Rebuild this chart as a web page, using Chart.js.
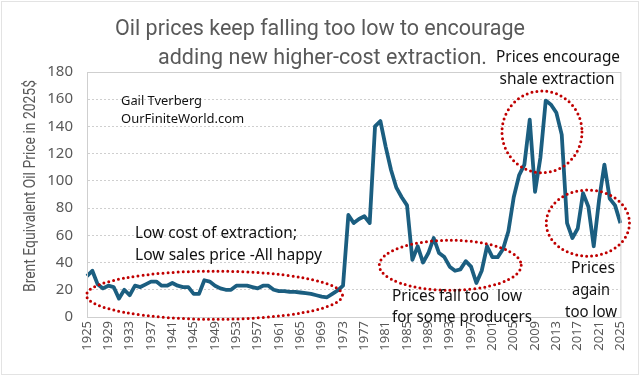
<!DOCTYPE html>
<html>
<head>
<meta charset="utf-8">
<script src="https://cdn.jsdelivr.net/npm/chart.js@4"></script>
<style>
  html, body { margin: 0; padding: 0; background: #fff; }
  #wrap { width: 640px; height: 376px; position: relative; }
</style>
</head>
<body>
<div id="wrap"><canvas id="oil"></canvas></div>
<script>
// --- Data ---
const years = [];
for (let y = 1925; y <= 2025; y++) years.push(String(y));

const prices = [
  30, 34, 24, 21, 23, 22, 13.5, 20, 16, 23,        // 1925-1934
  22, 24, 26, 26, 23, 23, 25, 23, 22, 22,          // 1935-1944
  17, 17, 27, 26, 23, 21, 20, 20, 23, 23,          // 1945-1954
  23, 22, 21, 23, 23, 20, 19, 19, 18.5, 18.5,      // 1955-1964
  18, 17.5, 17, 16, 15, 14.5, 17, 19.5, 23, 75,    // 1965-1974
  69, 72, 74, 69, 140, 144, 125, 108, 95, 88,      // 1975-1984
  82, 42, 52, 40, 47, 58, 47, 44, 37, 34,          // 1985-1994
  35, 41, 37, 25, 34, 52, 44, 44, 50, 63,          // 1995-2004
  88, 104, 112, 145, 92, 117, 159, 156, 150, 134,  // 2005-2014
  69, 58, 65, 91, 81, 52, 86, 112, 87, 82,         // 2015-2024
  69                                               // 2025
];

const yTicks = [0, 20, 40, 60, 80, 100, 120, 140, 160, 180];

const titleLines = [
  'Oil prices keep falling too low to encourage',
  'adding new higher-cost extraction.'
];
const yTitle = 'Brent Equivalent Oil Price in 2025$';

// callouts: [year, value, rxYears, ryValue]
const ellipses = [
  [1948.9, 16, 24, 17.7],
  [1993.1, 38, 13.3, 18.4],
  [2010.3, 136, 7.5, 30],
  [2018.9, 69, 7.8, 24.3]
];

// --- Colours ---
const LINE  = '#1b5e80';
const GREY  = '#595959';
const GRID  = '#cfcfcf';
const DOTS  = '#c00000';

function label(ctx, t, x, y, w) { ctx.fillText(t, x, y, w); }

// --- Annotation plugin ---
const notes = {
  id: 'notes',
  afterDraw(chart) {
    const { ctx, scales: { x, y }, chartArea: a } = chart;
    const px = yr => x.left + (yr - 1925) / 100 * (x.right - x.left);

    ctx.save();
    // outer chart frame
    ctx.strokeStyle = '#e3e3e3';
    ctx.lineWidth = 1;
    ctx.strokeRect(1.5, 1.5, 637, 373);

    // plot area frame
    ctx.strokeStyle = GRID;
    ctx.strokeRect(a.left + 0.5, a.top + 0.5, a.right - a.left, a.bottom - a.top);

    // dotted red ellipses
    ctx.strokeStyle = DOTS;
    ctx.lineWidth = 3;
    ctx.lineCap = 'round';
    ctx.setLineDash([0, 5]);
    ellipses.forEach(([yr, v, rx, ry]) => {
      const cx = px(yr), cy = y.getPixelForValue(v);
      const rxp = px(yr + rx) - cx;
      const ryp = y.getPixelForValue(0) - y.getPixelForValue(ry);
      ctx.beginPath();
      ctx.ellipse(cx, cy, rxp, ryp, 0, 0, Math.PI * 2);
      ctx.stroke();
    });
    ctx.setLineDash([]);

    // title
    ctx.fillStyle = GREY;
    ctx.textBaseline = 'middle';
    ctx.textAlign = 'left';
    ctx.font = '22px Roboto';
    label(ctx, titleLines[0], 115, 29, 410);
    label(ctx, titleLines[1], 158, 58, 329);

    // y axis title
    ctx.save();
    ctx.translate(31, 186);
    ctx.rotate(-Math.PI / 2);
    ctx.textAlign = 'center';
    ctx.font = '16px Roboto';
    label(ctx, yTitle, 0, 0, 212);
    ctx.restore();

    // text notes
    ctx.fillStyle = '#111';
    ctx.font = '13px "Noto Sans"';
    label(ctx, 'Gail Tverberg', 121, 101, 81);
    label(ctx, 'OurFiniteWorld.com', 121, 119, 126);

    ctx.font = '16px "Noto Sans"';
    label(ctx, 'Low cost of extraction;', 135, 233, 162);
    label(ctx, 'Low sales price -All happy', 135, 255, 187);
    label(ctx, 'Prices fall too  low', 392, 296, 130);
    label(ctx, 'for some producers', 392, 317, 140);

    ctx.textAlign = 'center';
    label(ctx, 'Prices encourage', 558, 57, 124);
    label(ctx, 'shale extraction', 557, 79, 115);
    label(ctx, 'Prices', 593, 268, 44);
    label(ctx, 'again', 591, 290, 38);
    label(ctx, 'too low', 591, 312, 52);
    ctx.restore();
  }
};

// --- Chart ---
new Chart(document.getElementById('oil'), {
  type: 'line',
  data: {
    labels: years,
    datasets: [{
      data: prices,
      borderColor: LINE,
      borderWidth: 3.8,
      pointRadius: 0,
      tension: 0,
      fill: false,
      borderJoinStyle: 'round'
    }]
  },
  options: {
    responsive: true,
    maintainAspectRatio: false,
    animation: false,
    layout: { padding: { top: 72, right: 7, left: 0, bottom: 0 } },
    plugins: { legend: { display: false }, tooltip: { enabled: false } },
    scales: {
      x: {
        type: 'category',
        offset: false,
        grid: { display: false, drawTicks: false },
        border: { color: GRID },
        ticks: {
          color: GREY,
          font: { family: '"Noto Sans"', size: 13 },
          autoSkip: false,
          maxRotation: 90,
          minRotation: 90,
          padding: 4,
          callback(v, i) { return i % 4 === 0 ? years[i] : null; }
        },
        afterFit(s) { s.height = 59; }
      },
      y: {
        min: 0,
        max: 180,
        afterBuildTicks(s) { s.ticks = yTicks.map(v => ({ value: v })); },
        grid: { color: GRID, lineWidth: 1, drawTicks: false },
        border: { color: GRID, dash: [2, 2] },
        ticks: {
          color: GREY,
          font: { family: '"Noto Sans"', size: 15 },
          padding: 14
        },
        afterFit(s) { s.width = 87; }
      }
    }
  },
  plugins: [notes]
});
</script>
</body>
</html>
